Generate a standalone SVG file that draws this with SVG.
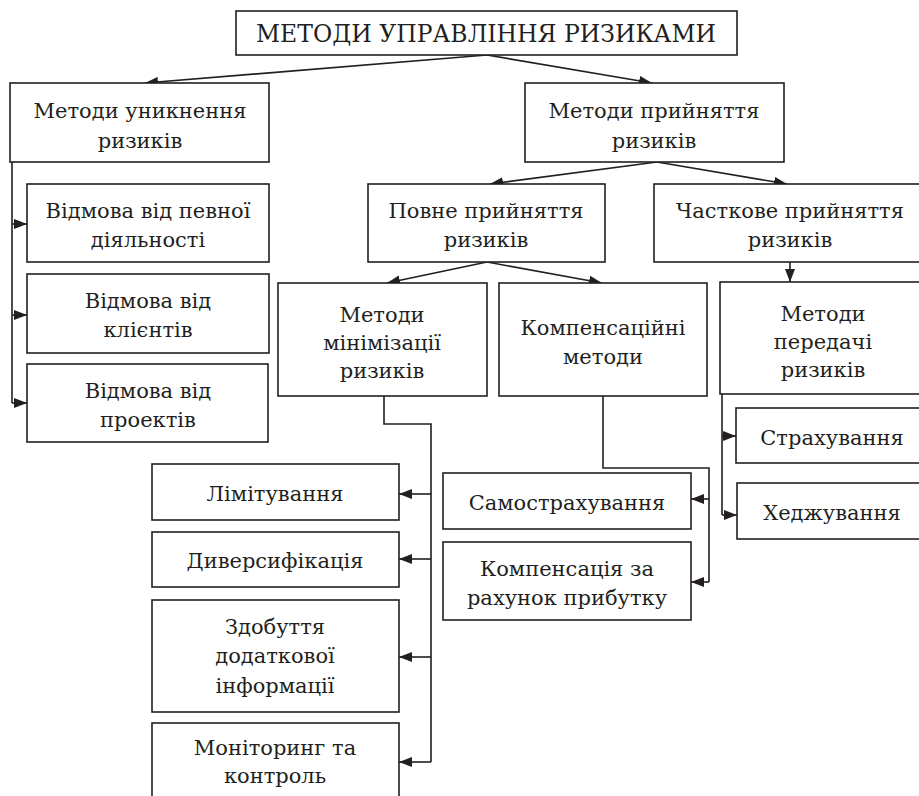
<svg xmlns="http://www.w3.org/2000/svg" width="919" height="796" viewBox="0 0 919 796">
<style>
.box{fill:#fff;stroke:#231f20;stroke-width:1.6}
.t{font-family:"DejaVu Serif",serif;font-size:21px;fill:#231f20;text-anchor:middle}
.c{fill:none;stroke:#231f20;stroke-width:1.6}
.a{marker-end:url(#ah)}
</style>
<defs>
<marker id="ah" markerUnits="userSpaceOnUse" markerWidth="14" markerHeight="10" refX="13" refY="5" orient="auto">
<path d="M0,0 L13,5 L0,10 Z" fill="#231f20"/>
</marker>
</defs>
<rect width="919" height="796" fill="#fff"/>
<g id="connectors">
<path class="c a" d="M487,55 L145,83"/>
<path class="c a" d="M487,55 L652,83"/>
<path class="c" d="M12,162 V403"/>
<path class="c a" d="M12,224 H27"/>
<path class="c a" d="M12,315 H27"/>
<path class="c a" d="M12,403 H27"/>
<path class="c a" d="M657,162 L490,184"/>
<path class="c a" d="M657,162 L787,184"/>
<path class="c a" d="M487,262 L387,283"/>
<path class="c a" d="M487,262 L602,283"/>
<path class="c a" d="M790,262 V282"/>
<path class="c" d="M384,396 V424 H431 V762"/>
<path class="c a" d="M431,494 H399"/>
<path class="c a" d="M431,559 H399"/>
<path class="c a" d="M431,657 H399"/>
<path class="c a" d="M431,762 H399"/>
<path class="c" d="M603,396 V468 H709 V582"/>
<path class="c a" d="M709,499 H691"/>
<path class="c a" d="M709,582 H691"/>
<path class="c" d="M722,394 V515"/>
<path class="c a" d="M722,436 H736"/>
<path class="c a" d="M722,515 H737"/>
</g>
<g id="root"><rect class="box" x="236" y="11" width="501" height="44"/><text class="t" x="486" y="42" style="font-size:23.5px">МЕТОДИ УПРАВЛІННЯ РИЗИКАМИ</text></g>
<g id="avoid"><rect class="box" x="10" y="83" width="259" height="79"/><text class="t" x="140" y="118">Методи уникнення</text><text class="t" x="140" y="148">ризиків</text></g>
<g id="accept"><rect class="box" x="525" y="83" width="259" height="79"/><text class="t" x="654" y="118">Методи прийняття</text><text class="t" x="654" y="148">ризиків</text></g>
<g id="refuse1"><rect class="box" x="27" y="184" width="242" height="78"/><text class="t" x="148" y="218">Відмова від певної</text><text class="t" x="148" y="247">діяльності</text></g>
<g id="refuse2"><rect class="box" x="27" y="274" width="242" height="79"/><text class="t" x="148" y="308">Відмова від</text><text class="t" x="148" y="337">клієнтів</text></g>
<g id="refuse3"><rect class="box" x="27" y="364" width="241" height="78"/><text class="t" x="148" y="398">Відмова від</text><text class="t" x="148" y="427">проектів</text></g>
<g id="full"><rect class="box" x="368" y="184" width="237" height="78"/><text class="t" x="486" y="218">Повне прийняття</text><text class="t" x="486" y="247">ризиків</text></g>
<g id="partial"><rect class="box" x="654" y="184" width="275" height="78"/><text class="t" x="790" y="218">Часткове прийняття</text><text class="t" x="790" y="247">ризиків</text></g>
<g id="minimize"><rect class="box" x="278" y="283" width="209" height="113"/><text class="t" x="382" y="322">Методи</text><text class="t" x="382" y="350">мінімізації</text><text class="t" x="382" y="378">ризиків</text></g>
<g id="compensate"><rect class="box" x="499" y="283" width="208" height="113"/><text class="t" x="603" y="335">Компенсаційні</text><text class="t" x="603" y="364">методи</text></g>
<g id="transfer"><rect class="box" x="720" y="282" width="210" height="112"/><text class="t" x="823" y="321">Методи</text><text class="t" x="823" y="349">передачі</text><text class="t" x="823" y="377">ризиків</text></g>
<g id="insurance"><rect class="box" x="736" y="408" width="194" height="55"/><text class="t" x="832" y="445">Страхування</text></g>
<g id="hedging"><rect class="box" x="737" y="483" width="193" height="56"/><text class="t" x="832" y="520">Хеджування</text></g>
<g id="selfins"><rect class="box" x="443" y="473" width="248" height="56"/><text class="t" x="567" y="510">Самострахування</text></g>
<g id="profit"><rect class="box" x="443" y="542" width="248" height="78"/><text class="t" x="567" y="576">Компенсація за</text><text class="t" x="567" y="605">рахунок прибутку</text></g>
<g id="limit"><rect class="box" x="152" y="464" width="247" height="56"/><text class="t" x="275" y="501">Лімітування</text></g>
<g id="divers"><rect class="box" x="152" y="532" width="247" height="55"/><text class="t" x="275" y="568">Диверсифікація</text></g>
<g id="info"><rect class="box" x="152" y="600" width="247" height="112"/><text class="t" x="275" y="634">Здобуття</text><text class="t" x="275" y="663">додаткової</text><text class="t" x="275" y="693">інформації</text></g>
<g id="monitor"><rect class="box" x="152" y="723" width="247" height="100"/><text class="t" x="275" y="755">Моніторинг та</text><text class="t" x="275" y="783">контроль</text></g>
</svg>
